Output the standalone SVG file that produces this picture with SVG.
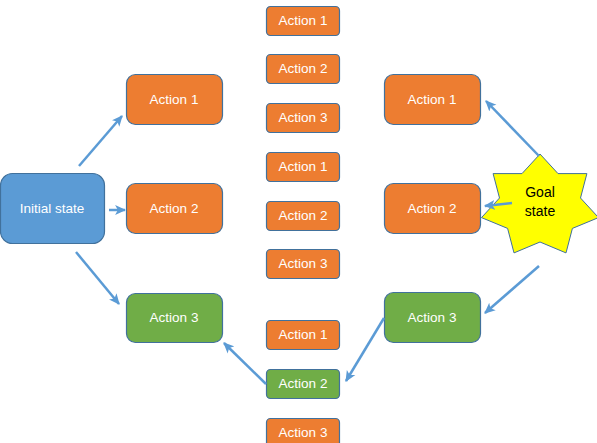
<svg xmlns="http://www.w3.org/2000/svg" width="597" height="443" viewBox="0 0 597 443">
<style>
.box{stroke:#41719C;stroke-width:1.2}
.o{fill:#ED7D31}
.g{fill:#70AD47}
.b{fill:#5B9BD5}
.t{font-family:"Liberation Sans","DejaVu Sans",sans-serif;font-size:13.5px;fill:#ffffff;text-anchor:middle;dominant-baseline:central}
.k{fill:#000000;font-size:14px}
.c{stroke:#5B9BD5;stroke-width:2.5;fill:none;marker-end:url(#ah)}
</style>
<defs>
<marker id="ah" markerUnits="userSpaceOnUse" viewBox="0 0 10 10" refX="9" refY="5" markerWidth="11" markerHeight="11" orient="auto">
<path d="M0,0.5 L10,5 L0,9.5 L2.5,5 Z" fill="#5B9BD5"/>
</marker>
</defs>
<rect width="597" height="443" fill="#ffffff"/>
<g id="initial"><rect class="box b" x="0.5" y="173.5" width="104" height="70" rx="12"/><text class="t" x="52" y="208.5">Initial state</text></g>
<g id="l1"><rect class="box o" x="126.5" y="74.5" width="96" height="50" rx="9"/><text class="t" x="174" y="99.5">Action 1</text></g>
<g id="l2"><rect class="box o" x="126.5" y="183.5" width="96" height="50" rx="9"/><text class="t" x="174" y="208.5">Action 2</text></g>
<g id="l3"><rect class="box g" x="126.5" y="293.5" width="96" height="49" rx="9"/><text class="t" x="174" y="317.5">Action 3</text></g>
<g id="r1"><rect class="box o" x="384.5" y="74.5" width="96" height="50" rx="9"/><text class="t" x="432" y="99.5">Action 1</text></g>
<g id="r2"><rect class="box o" x="384.5" y="183.5" width="96" height="50" rx="9"/><text class="t" x="432" y="208.5">Action 2</text></g>
<g id="r3"><rect class="box g" x="384.5" y="292.5" width="96" height="50" rx="9"/><text class="t" x="432" y="317.5">Action 3</text></g>
<g id="m1"><rect class="box o" x="266.5" y="6.5" width="73" height="29" rx="4"/><text class="t" x="303" y="20.5">Action 1</text></g>
<g id="m2"><rect class="box o" x="266.5" y="54.5" width="73" height="29" rx="4"/><text class="t" x="303" y="68.5">Action 2</text></g>
<g id="m3"><rect class="box o" x="266.5" y="103.5" width="73" height="29" rx="4"/><text class="t" x="303" y="117.5">Action 3</text></g>
<g id="m4"><rect class="box o" x="266.5" y="152.5" width="73" height="29" rx="4"/><text class="t" x="303" y="166.5">Action 1</text></g>
<g id="m5"><rect class="box o" x="266.5" y="201.5" width="73" height="29" rx="4"/><text class="t" x="303" y="215.5">Action 2</text></g>
<g id="m6"><rect class="box o" x="266.5" y="249.5" width="73" height="29" rx="4"/><text class="t" x="303" y="263.5">Action 3</text></g>
<g id="m7"><rect class="box o" x="266.5" y="320.5" width="73" height="29" rx="4"/><text class="t" x="303" y="334.5">Action 1</text></g>
<g id="m8"><rect class="box g" x="266.5" y="369.5" width="73" height="29" rx="4"/><text class="t" x="303" y="383.5">Action 2</text></g>
<g id="m9"><rect class="box o" x="266.5" y="418.5" width="73" height="29" rx="4"/><text class="t" x="303" y="432.5">Action 3</text></g>
<g id="goal">
<polygon points="540,154 558,173.6 586.9,173.6 580.5,198 598.5,217.6 572.4,228.4 566,252.9 540,242 514,252.9 507.6,228.4 481.5,217.6 499.5,198 493.1,173.6 522,173.6" fill="#FFFF00" stroke="#41719C" stroke-width="1"/>
<text class="t k" x="540" y="192">Goal</text>
<text class="t k" x="540" y="211">state</text>
</g>
<g id="connectors">
<line class="c" x1="79" y1="166" x2="122" y2="116"/>
<line class="c" x1="109" y1="210" x2="125" y2="210"/>
<line class="c" x1="76" y1="252" x2="119" y2="304"/>
<line class="c" x1="539" y1="156" x2="486" y2="101"/>
<line class="c" x1="512" y1="203" x2="485" y2="206"/>
<line class="c" x1="539" y1="266" x2="485" y2="313"/>
<line class="c" x1="384" y1="318" x2="346" y2="381"/>
<line class="c" x1="266" y1="384" x2="224" y2="343"/>
</g>
</svg>
